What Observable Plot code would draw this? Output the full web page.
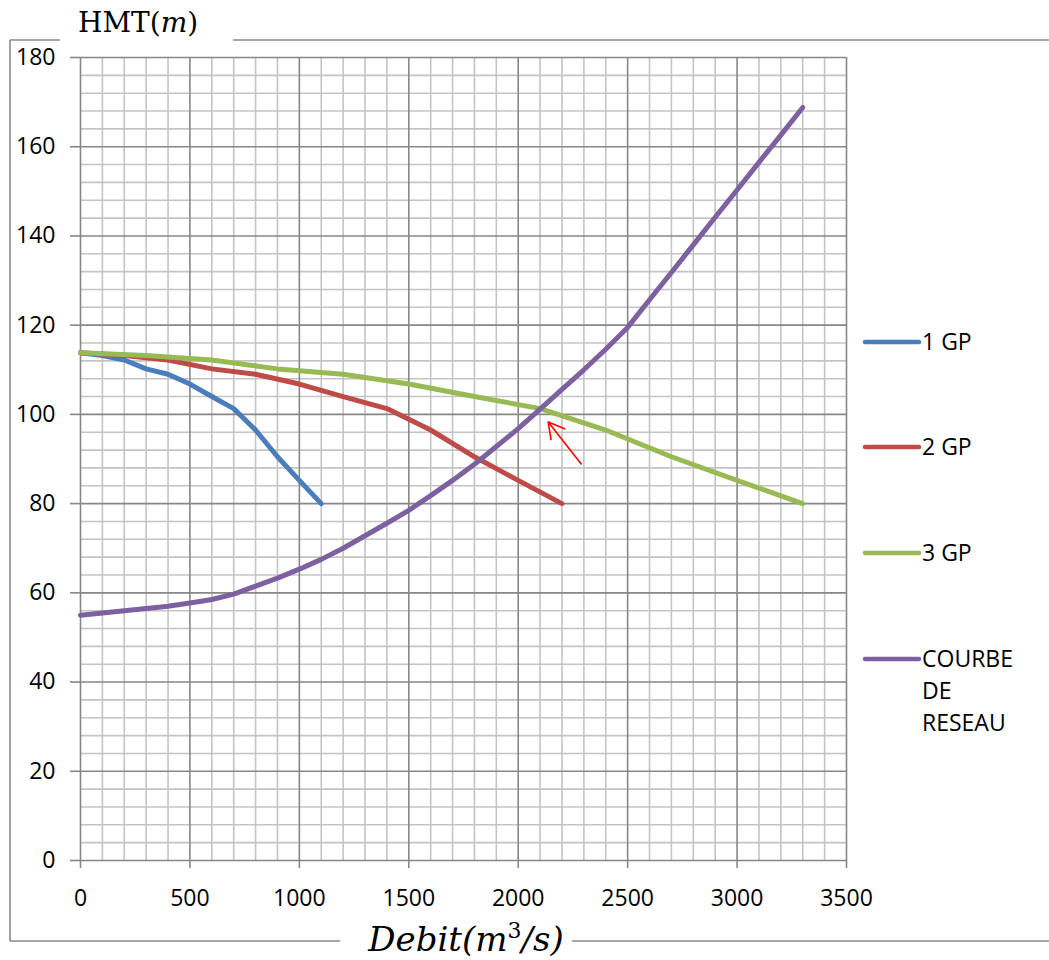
<!DOCTYPE html>
<html><head><meta charset="utf-8">
<script src="https://cdn.jsdelivr.net/npm/d3@7"></script>
<script src="https://cdn.jsdelivr.net/npm/@observablehq/plot@0.6"></script>
<style>body{margin:0;background:#fff} svg{display:block}</style>
</head><body><div id="chart"></div>
<script>
const seriesNames = ["1 GP", "2 GP", "3 GP", "COURBE DE RESEAU"];
const seriesColors = ["#4A7EBB", "#BE4B48", "#98B954", "#7D60A0"];

const q1GP = [0, 100, 200, 300, 400, 500, 600, 700, 800, 900, 1000, 1100];
const h1GP = [113.8, 113.2, 112.2, 110.2, 109.0, 106.8, 104.0, 101.3, 96.5, 90.5, 85.2, 80.0];

const q2GP = [0, 200, 400, 600, 800, 1000, 1200, 1400, 1600, 1800, 2000, 2200];
const h2GP = [113.8, 113.2, 112.2, 110.2, 109.0, 106.8, 104.0, 101.3, 96.5, 90.5, 85.2, 80.0];

const q3GP = [0, 300, 600, 900, 1200, 1500, 1800, 2100, 2400, 2700, 3000, 3300];
const h3GP = [113.8, 113.2, 112.2, 110.2, 109.0, 106.8, 104.0, 101.3, 96.5, 90.5, 85.2, 80.0];

const qReseau = [0, 100, 200, 300, 400, 500, 600, 700, 800, 900, 1000, 1100, 1200, 1300, 1400, 1500, 1600, 1700, 1800, 1900, 2000, 2100, 2200, 2300, 2400, 2500, 2600, 2700, 2800, 2900, 3000, 3100, 3200, 3300];
const hReseau = [55.0, 55.5, 56.0, 56.5, 57.0, 57.7, 58.5, 59.7, 61.5, 63.3, 65.3, 67.5, 70.0, 72.8, 75.6, 78.5, 81.8, 85.2, 88.8, 92.8, 96.8, 101.2, 105.6, 110.0, 114.6, 119.5, 125.7, 131.8, 138.0, 144.2, 150.3, 156.5, 162.6, 168.8];

const xTicks = [0, 500, 1000, 1500, 2000, 2500, 3000, 3500];
const yTicks = [0, 20, 40, 60, 80, 100, 120, 140, 160, 180];
const xMinor = d3.range(0, 3501, 100).filter(v => v % 500 !== 0);
const yMinor = d3.range(0, 181, 4).filter(v => v % 20 !== 0);

const arrowFrom = [2288, 88.9];
const arrowTo = [2137, 98.3];

const qs = [q1GP, q2GP, q3GP, qReseau];
const hs = [h1GP, h2GP, h3GP, hReseau];
const rows = [];
seriesNames.forEach((s, i) => qs[i].forEach((q, j) => rows.push({serie: s, q, h: hs[i][j]})));

const W = 1049, H = 960;
const font = "'Open Sans', sans-serif";
const majorC = "#878787", minorC = "#c4c4c4";
const fmt = d3.format("d");

const chart = Plot.plot({
  width: W, height: H,
  marginLeft: 80, marginRight: 203, marginTop: 57, marginBottom: 100,
  x: {domain: [0, 3500], label: null},
  y: {domain: [0, 180], label: null},
  color: {domain: seriesNames, range: seriesColors},
  style: {fontFamily: font, fontSize: "23px", color: "#000", background: "#fff"},
  marks: [
    Plot.ruleX(xMinor, {stroke: minorC, strokeWidth: 1.6}),
    Plot.ruleY(yMinor, {stroke: minorC, strokeWidth: 1.6}),
    Plot.ruleX(xTicks, {stroke: majorC, strokeWidth: 1.6}),
    Plot.ruleY(yTicks, {stroke: majorC, strokeWidth: 1.6}),
    Plot.axisX({ticks: xTicks, text: null, label: null, tickSize: 8, stroke: majorC, strokeWidth: 1.6}),
    Plot.axisY({ticks: yTicks, text: null, label: null, tickSize: 10, stroke: majorC, strokeWidth: 1.6}),
    Plot.axisX({ticks: xTicks, tickSize: 0, tickPadding: 29, label: null, tickFormat: fmt, fontSize: 23, fill: "#000"}),
    Plot.axisY({ticks: yTicks, tickSize: 0, tickPadding: 25, label: null, tickFormat: fmt, fontSize: 23, fill: "#000"}),
    Plot.line(rows, {x: "q", y: "h", z: "serie", stroke: "serie", strokeWidth: 5, strokeLinecap: "round", strokeLinejoin: "round"}),
    Plot.arrow([0], {x1: () => arrowFrom[0], y1: () => arrowFrom[1], x2: () => arrowTo[0], y2: () => arrowTo[1], stroke: "#ff0000", strokeWidth: 1.6, headLength: 20, headAngle: 58})
  ]
});

const svg = d3.select(chart);
const g = svg.append("g").attr("text-anchor", "start");
const borderC = "#8a8a8a";
// outer frame with gaps for the titles
[[10, 40, 60, 40], [233, 40, 1049, 40], [10, 40, 10, 941], [10, 941, 340, 941], [572, 941, 1049, 941]].forEach(([a, b, c, d]) =>
  g.append("line").attr("x1", a).attr("y1", b).attr("x2", c).attr("y2", d).attr("stroke", borderC).attr("stroke-width", 1.6));

// y title
const yt = g.append("text").attr("x", 78).attr("y", 32).attr("text-anchor", "start").attr("font-family", "'DejaVu Serif', serif").attr("font-size", 28).attr("fill", "#000");
yt.append("tspan").text("HMT(");
yt.append("tspan").attr("font-style", "italic").text("m");
yt.append("tspan").text(")");

// x title
const xt = g.append("text").attr("x", 466).attr("y", 951).attr("text-anchor", "middle").attr("font-family", "'DejaVu Serif', serif").attr("font-size", 34).attr("font-style", "italic").attr("fill", "#000");
xt.append("tspan").text("Debit(m");
xt.append("tspan").attr("font-size", 22).attr("font-style", "normal").attr("dy", -13).text("3");
xt.append("tspan").attr("dy", 13).text("/s)");

// legend
const legY = [342, 447, 553, 659];
seriesNames.forEach((s, i) => {
  g.append("line").attr("x1", 865).attr("x2", 919).attr("y1", legY[i]).attr("y2", legY[i])
    .attr("stroke", seriesColors[i]).attr("stroke-width", 4.5).attr("stroke-linecap", "round");
  const words = i === 3 ? ["COURBE", "DE", "RESEAU"] : [s];
  words.forEach((w, k) => g.append("text").attr("x", 922).attr("y", legY[i] + k * 32).attr("dy", "0.35em")
    .attr("text-anchor", "start").attr("font-family", font).attr("font-size", 23).attr("fill", "#000").text(w));
});

document.getElementById("chart").appendChild(chart);
</script>
</body></html>
